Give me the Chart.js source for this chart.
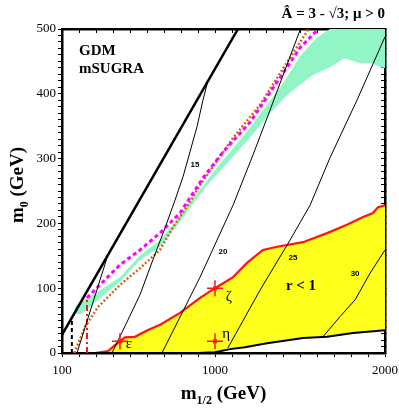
<!DOCTYPE html>
<html>
<head>
<meta charset="utf-8">
<script src="https://cdn.jsdelivr.net/npm/chart.js@4.4.1/dist/chart.umd.min.js"></script>
<style>
html,body{margin:0;padding:0;background:#fff;}
canvas{display:block;}
</style>
</head>
<body>
<canvas id="c" width="399" height="413"></canvas>
<script>
// ---------- data (GeV) ----------
const xTickLabels = [100, 1000, 2000];
const yTickLabels = [0, 100, 200, 300, 400, 500];

const boundX = [100, 1135];
const boundY = [28, 500];

const dashBlackX = [158, 158];
const dashBlackY = [0, 54];
const dashRedX = [247, 247];
const dashRedY = [0, 86];

const c10X = [188, 371];
const c10Y = [0, 152];
const c15X = [394, 488, 559, 635, 706, 765, 812, 894, 929, 959];
const c15Y = [0, 51, 90, 144, 193, 236, 272, 349, 390, 421];
const c20X = [688, 912, 1106, 1224, 1324, 1412, 1500];
const c20Y = [0, 117, 228, 306, 375, 437, 498];
const c25X = [1076, 1265, 1441, 1559, 1676, 1835, 2000];
const c25Y = [8, 97, 174, 228, 301, 390, 488];
const c30X = [1635, 1735, 1824, 1912, 2000];
const c30Y = [25, 56, 82, 123, 159];

const redX = [188, 294, 371, 412, 441, 470, 529, 603, 680, 794, 912, 1000, 1106, 1188, 1282, 1365, 1518, 1659, 1776, 1871, 1929, 1959, 2000];
const redY = [0, 0, 3, 12, 18, 24, 25, 35, 44, 62, 85, 100, 117, 139, 159, 164, 171, 185, 198, 210, 216, 225, 228];
const lowX = [188, 900, 1000, 1088, 1176, 1306, 1518, 1659, 1812, 2000];
const lowY = [0, 0, 1, 6, 9, 15, 23, 25, 31, 35];

const magX = [247, 441, 559, 676, 794, 929, 1047, 1206, 1365, 1500, 1600];
const magY = [85, 136, 159, 185, 216, 270, 310, 356, 418, 471, 498];
const orX = [172, 235, 312, 441, 559, 676, 753, 853, 912, 1106, 1265, 1412, 1541, 1548];
const orY = [0, 40, 71, 105, 131, 159, 194, 233, 259, 332, 383, 444, 496, 500];

const greenTopX = [172, 186, 247, 330, 441, 559, 676, 794, 870, 951, 1047, 1106, 1206, 1306, 1400, 1500, 1600, 1676, 2000];
const greenTopY = [68, 75, 84, 98, 117, 151, 174, 212, 238, 266, 298, 316, 348, 383, 416, 458, 487, 500, 500];
const greenBotX = [172, 185, 215, 260, 330, 441, 559, 676, 794, 870, 951, 1106, 1224, 1324, 1424, 1500, 1576, 1676, 1718, 1760, 1794, 1853, 1929, 1970, 2000];
const greenBotY = [64, 60, 60, 70, 86, 110, 143, 164, 202, 230, 258, 303, 338, 370, 398, 414, 429, 441, 448, 455, 452, 447, 447, 441, 440];

const starX = [441, 1000, 1000];
const starY = [18, 100, 18];
const greekNames = ['ε', 'ζ', 'η'];
const greekX = [494, 1082, 1065];
const greekY = [14, 86, 29];

const contourNames = ['15', '20', '25', '30'];
const contourLabX = [882, 1047, 1459, 1824];
const contourLabY = [290, 156, 147, 122];

const boxNames = ['GDM', 'mSUGRA'];
const boxX = [200, 200];
const boxY = [460, 432];
const regionName = 'r < 1';
const regionX = 1506;
const regionY = 97;

const titleText = 'Â = 3 - √3; μ > 0';

// ---------- helpers ----------
const pts = (xs, ys) => xs.map((v, i) => ({x: v, y: ys[i]}));
const SERIF = '"Liberation Serif", "Times New Roman", serif';
const SANS = '"Liberation Sans", Arial, sans-serif';

function lineDS(xs, ys, color, width, extra) {
  return Object.assign({
    data: pts(xs, ys), showLine: true, borderColor: color, borderWidth: width,
    pointRadius: 0, fill: false, tension: 0, order: 1
  }, extra || {});
}

const datasets = [
  lineDS(greenTopX, greenTopY, 'rgba(0,0,0,0)', 1, {fill: '+1', backgroundColor: '#92f5c6', order: 20}),
  lineDS(greenBotX, greenBotY, 'rgba(0,0,0,0)', 1, {order: 20}),
  lineDS(redX, redY, '#ff1414', 2.2, {fill: '+1', backgroundColor: '#ffff1e', order: 10}),
  lineDS(lowX, lowY, '#000', 2, {order: 9}),
  lineDS(boundX, boundY, '#000', 2.5),
  lineDS(c10X, c10Y, '#000', 1),
  lineDS(c15X, c15Y, '#000', 1),
  lineDS(c20X, c20Y, '#000', 1),
  lineDS(c25X, c25Y, '#000', 1),
  lineDS(c30X, c30Y, '#000', 1),
  lineDS(magX, magY, '#ff00ff', 3, {borderDash: [4, 3]}),
  lineDS(orX, orY, '#d9620f', 2.4, {borderDash: [2, 2]}),
  lineDS(dashBlackX, dashBlackY, '#000', 2, {borderDash: [4, 3]}),
  lineDS(dashRedX, dashRedY, '#ff1414', 2, {borderDash: [6, 3, 2, 3]}),
  {data: pts(starX, starY), showLine: false, pointStyle: 'cross', pointRadius: 8,
   pointBorderColor: '#ff1414', pointBorderWidth: 1.5, order: 0},
  {data: pts(starX, starY), showLine: false, pointStyle: 'crossRot', pointRadius: 2.5,
   pointBorderColor: '#ff1414', pointBorderWidth: 1.5, order: 0}
];

const annot = {
  id: 'annot',
  afterDraw(chart) {
    const {ctx, chartArea} = chart;
    const x = chart.scales.x, y = chart.scales.y;
    ctx.save();
    ctx.fillStyle = '#000';
    // contour labels
    ctx.font = 'bold 8px ' + SANS;
    ctx.textAlign = 'center';
    ctx.textBaseline = 'middle';
    contourNames.forEach((t, i) => ctx.fillText(t, x.getPixelForValue(contourLabX[i]), y.getPixelForValue(contourLabY[i])));
    // greek labels
    ctx.font = '15px ' + SERIF;
    greekNames.forEach((t, i) => ctx.fillText(t, x.getPixelForValue(greekX[i]), y.getPixelForValue(greekY[i])));
    // region label
    ctx.textBaseline = 'alphabetic';
    ctx.font = 'bold 15px ' + SERIF;
    ctx.fillText(regionName, x.getPixelForValue(regionX), y.getPixelForValue(regionY));
    // box labels
    ctx.textAlign = 'left';
    boxNames.forEach((t, i) => ctx.fillText(t, x.getPixelForValue(boxX[i]), y.getPixelForValue(boxY[i])));

    // axis titles with subscripts
    function drawSub(main, sub, rest, cx, base) {
      ctx.textAlign = 'left';
      ctx.font = 'bold 19px ' + SERIF;
      const w1 = ctx.measureText(main).width;
      const w3 = ctx.measureText(rest).width;
      ctx.font = 'bold 12px ' + SERIF;
      const w2 = ctx.measureText(sub).width;
      let s = cx - (w1 + w2 + w3) / 2;
      ctx.font = 'bold 19px ' + SERIF;
      ctx.fillText(main, s, base);
      ctx.font = 'bold 12px ' + SERIF;
      ctx.fillText(sub, s + w1, base + 5);
      ctx.font = 'bold 19px ' + SERIF;
      ctx.fillText(rest, s + w1 + w2, base);
    }
    drawSub('m', '1/2', ' (GeV)', (chartArea.left + chartArea.right) / 2, 399);
    ctx.save();
    ctx.translate(22.5, 185);
    ctx.rotate(-Math.PI / 2);
    drawSub('m', '0', ' (GeV)', 0, 0);
    ctx.restore();
    ctx.restore();
  }
};

const tickFont = {family: SERIF, size: 13};
const borderOpt = {display: true, color: '#000', width: 2.5};

new Chart(document.getElementById('c'), {
  type: 'scatter',
  data: {datasets},
  options: {
    responsive: false,
    animation: false,
    devicePixelRatio: 1,
    layout: {padding: {left: 0, right: 14, top: 0, bottom: 0}},
    plugins: {
      legend: {display: false},
      tooltip: {enabled: false},
      title: {
        display: true, text: titleText, align: 'end', color: '#000',
        font: {family: SERIF, size: 15, weight: 'bold'},
        padding: {top: 5, bottom: 6}
      }
    },
    scales: {
      x: {
        type: 'linear', position: 'bottom', min: 100, max: 2000,
        border: borderOpt,
        grid: {drawOnChartArea: false, drawTicks: true, tickLength: 4, color: '#000', lineWidth: 1},
        ticks: {
          stepSize: 100, autoSkip: false, maxRotation: 0, padding: 6, color: '#000', font: tickFont,
          callback: v => xTickLabels.includes(v) ? String(v) : ''
        },
        afterFit: s => { s.height = 60; s.paddingLeft = 0; s.paddingRight = 0; }
      },
      y: {
        type: 'linear', position: 'left', min: 0, max: 500,
        border: borderOpt,
        grid: {drawOnChartArea: false, drawTicks: true, tickLength: 4, color: '#000', lineWidth: 1},
        ticks: {
          stepSize: 10, autoSkip: false, padding: 2, color: '#000', font: tickFont,
          callback: v => yTickLabels.includes(v) ? String(v) : ''
        },
        afterFit: s => { s.width = 62; s.paddingTop = 0; s.paddingBottom = 0; }
      },
      x2: {
        type: 'linear', axis: 'x', position: 'top', min: 100, max: 2000,
        border: borderOpt,
        grid: {drawOnChartArea: false, drawTicks: true, tickLength: -4, color: '#000', lineWidth: 1},
        ticks: {display: false, stepSize: 100, autoSkip: false},
        afterFit: s => { s.height = 0; s.paddingLeft = 0; s.paddingRight = 0; }
      },
      y2: {
        type: 'linear', axis: 'y', position: 'right', min: 0, max: 500,
        border: borderOpt,
        grid: {drawOnChartArea: false, drawTicks: true, tickLength: -4, color: '#000', lineWidth: 1},
        ticks: {display: false, stepSize: 10, autoSkip: false},
        afterFit: s => { s.width = 0; s.paddingTop = 0; s.paddingBottom = 0; }
      }
    }
  },
  plugins: [annot]
});
</script>
</body>
</html>
